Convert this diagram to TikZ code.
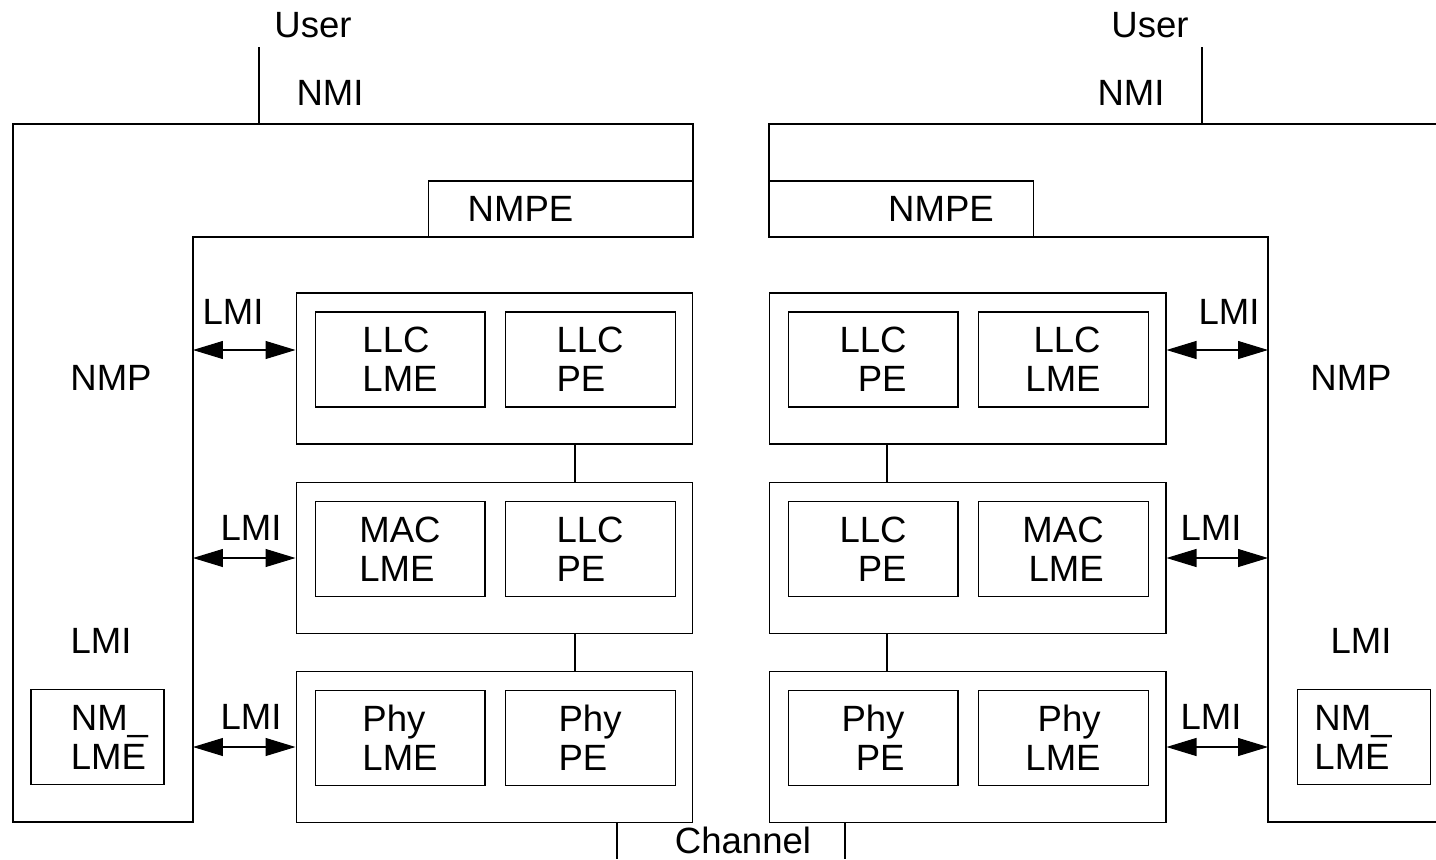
\documentclass[tikz,border=0pt]{standalone}
\usepackage{fontspec}
\setmainfont{Liberation Sans}
\usetikzlibrary{arrows.meta, positioning}

\begin{document}
\begin{tikzpicture}[x=0.02cm, y=-0.02cm, line width=0.6pt,
  font=\fontsize{20.8}{22.2}\selectfont,
  layer/.style={draw, minimum width=7.94cm, minimum height=3.02cm, inner sep=0pt},
  ent/.style={draw, minimum width=3.4cm, minimum height=1.9cm, inner sep=0pt},
  entl/.style={ent, align=left, below right=0.38cm and 0.38cm of #1},
  entr/.style={ent, align=right, right=0.38cm of #1},
  entrr/.style={ent, align=right, below right=0.38cm and 0.38cm of #1},
  entll/.style={ent, align=left, right=0.38cm of #1},
  nmbox/.style={draw, minimum width=2.66cm, minimum height=1.9cm, inner sep=0pt, align=left},
  nmpebox/.style={draw, minimum width=5.3cm, minimum height=1.12cm, inner sep=0pt},
  lbl/.style={anchor=base, inner sep=0pt},
  lmi/.style={{Triangle[length=0.6cm,width=0.36cm]}-{Triangle[length=0.6cm,width=0.36cm]}}]
\useasboundingbox (0,0) rectangle (1436,859);

% left station
\draw (13,124) -- (693,124) -- (693,237) -- (193,237) -- (193,822) -- (13,822) -- cycle;
\node[nmpebox] (nmpeL) at (560.5,209) {NMPE\hspace{1.6cm}\mbox{}};
\node[layer] (llcL) at (494.5,368.5) {};
\node[layer] (macL) at (494.5,558) {};
\node[layer] (phyL) at (494.5,747) {};
\node[entl=llcL.north west] (llcL1) {LLC\\LME};
\node[entll=llcL1] (llcL2) {LLC\\PE};
\node[entl=macL.north west] (macL1) {MAC\\LME};
\node[entll=macL1] (macL2) {LLC\\PE};
\node[entl=phyL.north west] (phyL1) {Phy\\LME};
\node[entll=phyL1] (phyL2) {Phy\\PE};
\node[nmbox] (nmlmeL) at (97.5,737) {\hspace{0.48cm}NM\_\\\hspace{0.48cm}LME};

\node[lbl] (userLt) at (313,37) {User};
\node[lbl] (nmiL) at (330,105) {NMI};
\node[lbl] (nmpLt) at (111,390) {NMP};
\node[lbl] (lmiL0) at (101,653) {LMI};
\node[lbl] (lmiL1) at (233,324) {LMI};
\node[lbl] (lmiL2) at (251,540) {LMI};
\node[lbl] (lmiL3) at (251,729) {LMI};

\coordinate (usrL) at (259,47);
\coordinate (topL) at (259,124);
\draw (usrL) -- (topL);
\coordinate (nmpL) at (193,0);
\coordinate (aL1) at (193,350);
\draw[lmi] (aL1) -- (aL1 -| llcL.west);
\draw[lmi] (macL.west -| nmpL) -- (macL.west);
\draw[lmi] (phyL.west -| nmpL) -- (phyL.west);
\coordinate (vL) at (575,0);
\draw (llcL.south -| vL) -- (macL.north -| vL);
\draw (macL.south -| vL) -- (phyL.north -| vL);

% right station
\draw (1436,124) -- (769,124) -- (769,237) -- (1268,237) -- (1268,822) -- (1436,822);
\node[nmpebox] (nmpeR) at (901,209) {\hspace{1.6cm}NMPE};
\node[layer] (llcR) at (967.5,368.5) {};
\node[layer] (macR) at (967.5,558) {};
\node[layer] (phyR) at (967.5,747) {};
\node[entrr=llcR.north west] (llcR1) {LLC\\PE};
\node[entr=llcR1] (llcR2) {LLC\\LME};
\node[entrr=macR.north west] (macR1) {LLC\\PE};
\node[entr=macR1] (macR2) {MAC\\LME};
\node[entrr=phyR.north west] (phyR1) {Phy\\PE};
\node[entr=phyR1] (phyR2) {Phy\\LME};
\node[nmbox] (nmlmeR) at (1364,737) {NM\_\hspace{0.44cm}\mbox{}\\LME};

\node[lbl] (userRt) at (1150,37) {User};
\node[lbl] (nmiR) at (1131,105) {NMI};
\node[lbl] (nmpRt) at (1351,390) {NMP};
\node[lbl] (lmiR0) at (1361,653) {LMI};
\node[lbl] (lmiR1) at (1229,324) {LMI};
\node[lbl] (lmiR2) at (1211,540) {LMI};
\node[lbl] (lmiR3) at (1211,729) {LMI};

\coordinate (usrR) at (1202,47);
\coordinate (topR) at (1202,124);
\draw (usrR) -- (topR);
\coordinate (nmpR) at (1268,0);
\coordinate (aR1) at (1268,350);
\draw[lmi] (aR1 -| llcR.east) -- (aR1);
\draw[lmi] (macR.east) -- (macR.east -| nmpR);
\draw[lmi] (phyR.east) -- (phyR.east -| nmpR);
\coordinate (vR) at (887,0);
\draw (llcR.south -| vR) -- (macR.north -| vR);
\draw (macR.south -| vR) -- (phyR.north -| vR);

% channel
\node[lbl] (chan) at (743,853) {Channel};
\coordinate (chA) at (617,822);
\coordinate (chA2) at (617,859);
\coordinate (chB) at (845,822);
\coordinate (chB2) at (845,859);
\draw (chA) -- (chA2);
\draw (chB) -- (chB2);
\end{tikzpicture}
\end{document}
